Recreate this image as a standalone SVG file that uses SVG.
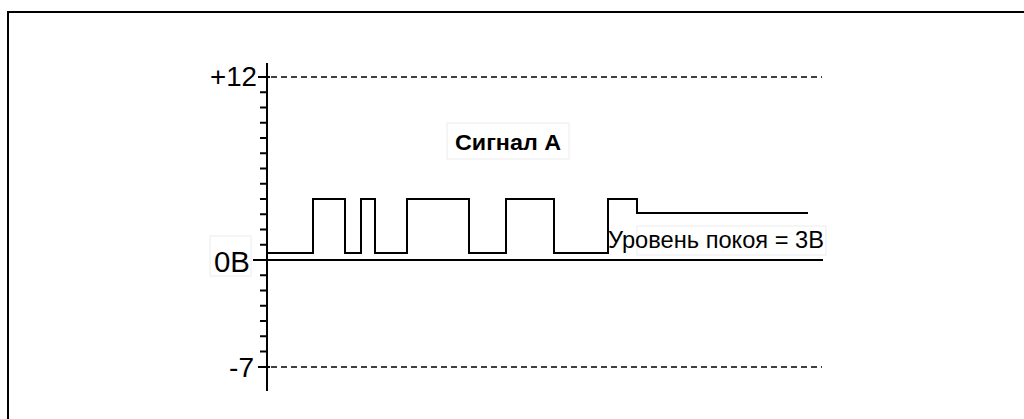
<svg xmlns="http://www.w3.org/2000/svg" width="1024" height="419" viewBox="0 0 1024 419">
<style>
.ln{fill:none;stroke:#000;stroke-width:2}
.dash{fill:none;stroke:#000;stroke-width:1.5;stroke-dasharray:6 4}
.tick{stroke:#000;stroke-width:2}
.lbl{font-family:"Liberation Sans",Arial,sans-serif;fill:#000}
.box{fill:#fff;stroke:#ececec;stroke-width:1}
</style>
<rect width="1024" height="419" fill="#fff"/>
<path class="ln" d="M8,419 V12 H1024" stroke-width="2.5"/>
<g id="axis">
<line class="tick" x1="267" y1="63" x2="267" y2="391"/>
<g id="ticks">
<line class="tick" x1="258" y1="77" x2="270" y2="77"/>
<line class="tick" x1="260" y1="92.25" x2="267" y2="92.25"/>
<line class="tick" x1="260" y1="107.5" x2="267" y2="107.5"/>
<line class="tick" x1="260" y1="122.75" x2="267" y2="122.75"/>
<line class="tick" x1="260" y1="138" x2="267" y2="138"/>
<line class="tick" x1="260" y1="153.25" x2="267" y2="153.25"/>
<line class="tick" x1="260" y1="168.5" x2="267" y2="168.5"/>
<line class="tick" x1="260" y1="183.75" x2="267" y2="183.75"/>
<line class="tick" x1="260" y1="199" x2="267" y2="199"/>
<line class="tick" x1="260" y1="214.25" x2="267" y2="214.25"/>
<line class="tick" x1="260" y1="229.5" x2="267" y2="229.5"/>
<line class="tick" x1="260" y1="244.75" x2="267" y2="244.75"/>
<line class="tick" x1="260" y1="275.25" x2="267" y2="275.25"/>
<line class="tick" x1="260" y1="290.5" x2="267" y2="290.5"/>
<line class="tick" x1="260" y1="305.75" x2="267" y2="305.75"/>
<line class="tick" x1="260" y1="321" x2="267" y2="321"/>
<line class="tick" x1="260" y1="336.25" x2="267" y2="336.25"/>
<line class="tick" x1="260" y1="351.5" x2="267" y2="351.5"/>
<line class="tick" x1="258" y1="367" x2="270" y2="367"/>
</g>
</g>
<g id="grid">
<line class="dash" x1="271" y1="77" x2="822" y2="77"/>
<line class="dash" x1="271" y1="367" x2="822" y2="367"/>
<line class="ln" x1="253" y1="260" x2="823" y2="260" stroke-width="1.8"/>
</g>
<g id="signal">
<path class="ln" d="M268,253 H313 V199 H345 V253 H361 V199 H375 V253 H407 V199 H469 V253 H506 V199 H554 V253 H608 V199 H637 V213 H808"/>
</g>
<g id="label-plus12"><text class="lbl" x="257" y="86" font-size="27" text-anchor="end" textLength="47" lengthAdjust="spacingAndGlyphs">+12</text></g>
<g id="label-zero">
<rect class="box" x="210" y="236" width="41" height="40" stroke="#f3f3f3"/>
<line class="ln" x1="253" y1="260" x2="267" y2="260" stroke-width="1.8"/>
<text class="lbl" x="250" y="272" font-size="29" text-anchor="end" textLength="36" lengthAdjust="spacingAndGlyphs">0B</text>
</g>
<g id="label-minus7"><text class="lbl" x="254" y="377" font-size="28" text-anchor="end">-7</text></g>
<g id="title">
<rect class="box" x="447" y="123" width="122" height="36"/>
<text class="lbl" x="455" y="150" font-size="22" font-weight="bold" textLength="106" lengthAdjust="spacingAndGlyphs">Сигнал А</text>
</g>
<g id="rest-label">
<rect x="637" y="226" width="189" height="29" fill="none" stroke="#ececec" stroke-width="1"/>
<text class="lbl" x="608" y="248" font-size="24.5" textLength="216" lengthAdjust="spacingAndGlyphs">Уровень покоя = 3В</text>
</g>
</svg>
